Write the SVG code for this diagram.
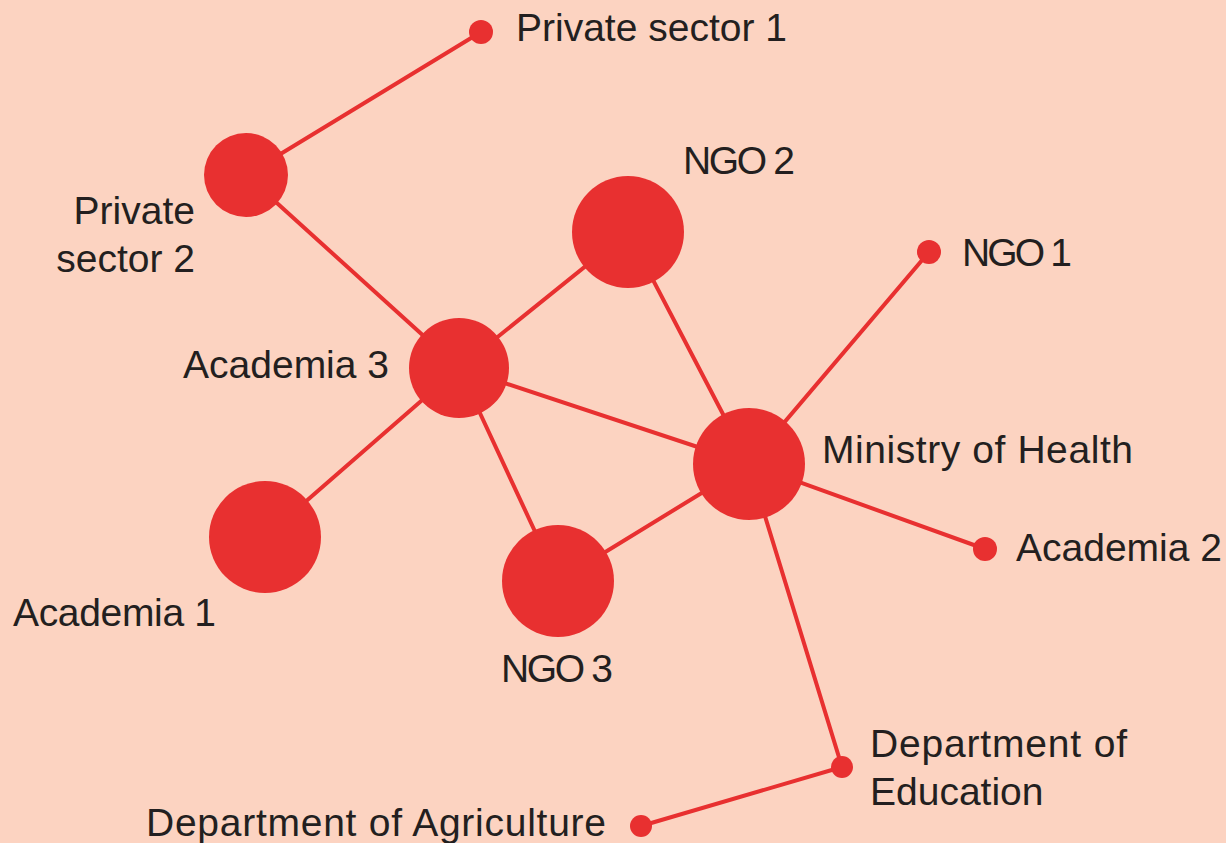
<svg xmlns="http://www.w3.org/2000/svg" width="1226" height="843" viewBox="0 0 1226 843">
<style>
.bg{fill:#FCD3C1}
.n{fill:#E83030}
.e{stroke:#E83030;stroke-width:4;fill:none;stroke-linecap:round}
text{font-family:"Liberation Sans",Arial,sans-serif;font-size:39px;fill:#231F20}
.r{text-anchor:end}
</style>
<rect class="bg" x="0" y="0" width="1226" height="843"/>
<g id="connectors">
<line class="e" x1="481" y1="32" x2="246" y2="175"/>
<line class="e" x1="246" y1="175" x2="459" y2="368"/>
<line class="e" x1="459" y1="368" x2="628" y2="232"/>
<line class="e" x1="459" y1="368" x2="749" y2="464"/>
<line class="e" x1="459" y1="368" x2="265" y2="537"/>
<line class="e" x1="459" y1="368" x2="558" y2="581"/>
<line class="e" x1="628" y1="232" x2="749" y2="464"/>
<line class="e" x1="929" y1="252" x2="749" y2="464"/>
<line class="e" x1="749" y1="464" x2="558" y2="581"/>
<line class="e" x1="749" y1="464" x2="985" y2="549"/>
<line class="e" x1="749" y1="464" x2="842" y2="767"/>
<line class="e" x1="842" y1="767" x2="641" y2="826"/>
</g>
<g id="private-sector-1"><circle class="n" cx="481" cy="32" r="12"/><text x="516" y="41">Private sector 1</text></g>
<g id="private-sector-2"><circle class="n" cx="246" cy="175" r="42"/><text class="r" x="195" y="224">Private</text><text class="r" x="195" y="272">sector 2</text></g>
<g id="ngo-2"><circle class="n" cx="628" cy="232" r="56"/><text x="683" y="174" textLength="112">NGO 2</text></g>
<g id="ngo-1"><circle class="n" cx="929" cy="252" r="12"/><text x="962" y="266" textLength="110">NGO 1</text></g>
<g id="academia-3"><circle class="n" cx="459" cy="368" r="50"/><text class="r" x="389" y="378">Academia 3</text></g>
<g id="ministry-of-health"><circle class="n" cx="749" cy="464" r="56"/><text x="822" y="463" textLength="311">Ministry of Health</text></g>
<g id="academia-1"><circle class="n" cx="265" cy="537" r="56"/><text x="13" y="626" textLength="203">Academia 1</text></g>
<g id="ngo-3"><circle class="n" cx="558" cy="581" r="56"/><text x="501" y="682" textLength="112">NGO 3</text></g>
<g id="academia-2"><circle class="n" cx="985" cy="549" r="12"/><text x="1016" y="561">Academia 2</text></g>
<g id="department-of-education"><circle class="n" cx="842" cy="767" r="11"/><text x="870" y="757" textLength="257">Department of</text><text x="870" y="805">Education</text></g>
<g id="department-of-agriculture"><circle class="n" cx="641" cy="826" r="11"/><text x="146" y="836" textLength="460">Department of Agriculture</text></g>
</svg>
